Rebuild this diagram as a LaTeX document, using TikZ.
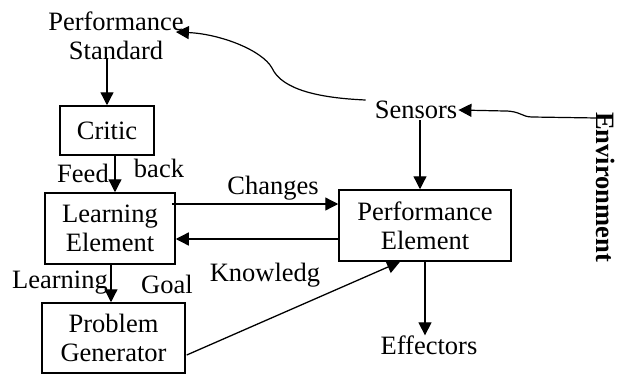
\documentclass[tikz,border=0pt]{standalone}
\usepackage{fontspec}
\setmainfont{Liberation Serif}
\usetikzlibrary{arrows.meta}
\begin{document}
\begin{tikzpicture}[x=1pt,y=-1pt,
  every node/.style={font=\fontsize{26.5}{29}\selectfont, inner sep=0pt, align=center},
  box/.style={draw, line width=1.5pt},
  arr/.style={line width=1.3pt, -{Triangle[length=13pt,width=13pt]}},
  crv/.style={line width=1.2pt, -{Triangle[length=13pt,width=13pt]}}]
\useasboundingbox (0,0) rectangle (625,375);
\node (PS) at (116,36) {Performance\\Standard};
\node[box, minimum width=94pt, minimum height=49pt] (critic) at (107,130.5) {Critic};
\node[box, minimum width=130pt, minimum height=71pt] (LE) at (110,228.5) {Learning\\Element};
\node[box, minimum width=143pt, minimum height=70pt] (PG) at (113.5,338) {Problem\\Generator};
\node[box, minimum width=172pt, minimum height=71pt] (PE) at (425,225.5) {Performance\\Element};
\node[inner sep=1pt] (sensors) at (416,110) {Sensors};
\node (effectors) at (429,345) {Effectors};
\node[rotate=-90, font=\fontsize{26.5}{29}\selectfont\bfseries] (env) at (606,187) {Environment};
\coordinate (envp) at (597,118);
\node (feed) at (83,173) {Feed};
\node (back) at (159,168) {back};
\node (changes) at (273,188) {Changes};
\node (know) at (265,275) {Knowledg};
\node (learning) at (60,283) {Learning};
\node (goal) at (167,284) {Goal};
% arrows
\draw[arr] ([yshift=2pt]critic.north |- PS.south) -- (critic.north);
\draw[arr] ([xshift=8pt]critic.south) -- ([xshift=8pt]critic.south |- LE.north);
\draw[arr] ([xshift=-4pt,yshift=24.5pt]LE.east) -- ([yshift=24.5pt]LE.east -| PE.west);
\draw[arr] ([yshift=-10.5pt]LE.east -| PE.west) -- ([yshift=-10.5pt]LE.east);
\draw[arr] ([xshift=1pt]LE.south) -- ([xshift=1pt]LE.south |- PG.north);
\draw[arr] ([xshift=1pt,yshift=-17pt]PG.east) -- ([xshift=-25pt]PE.south);
\draw[arr] ([xshift=-5pt]PE.north |- sensors.south) -- ([xshift=-5pt]PE.north);
\draw[arr] (PE.south) -- (PE.south |- effectors.north);
\draw[crv] (envp) -- (532,117) .. controls (522,117) and (520,111) .. (505,111) -- (sensors.east);
\draw[crv] ([xshift=-8pt,yshift=10pt]sensors.west) .. controls (320,98) and (282,90) .. (272,68)
  .. controls (262,50) and (220,34) .. ([xshift=-8pt,yshift=4pt]PS.east);
\end{tikzpicture}
\end{document}
